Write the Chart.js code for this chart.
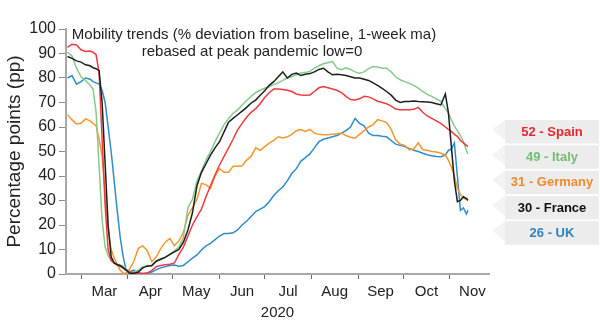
<!DOCTYPE html>
<html>
<head>
<meta charset="utf-8">
<script src="https://cdn.jsdelivr.net/npm/chart.js@4.4.1/dist/chart.umd.min.js"></script>
<style>
html,body{margin:0;padding:0;background:#fff;}
#wrap{width:600px;height:327px;}
canvas{display:block;}
</style>
</head>
<body>
<div id="wrap"><canvas id="c" width="600" height="327"></canvas></div>
<script>
// ---- data ----
const dates = [
 '2020-02-21','2020-02-24','2020-02-27','2020-03-01','2020-03-04','2020-03-07',
 '2020-03-09','2020-03-11','2020-03-13','2020-03-15','2020-03-17','2020-03-19','2020-03-21','2020-03-23','2020-03-25','2020-03-27','2020-03-29','2020-03-31',
 '2020-04-02',
 '2020-04-05','2020-04-08','2020-04-11','2020-04-14','2020-04-17','2020-04-20','2020-04-23','2020-04-26','2020-04-29','2020-05-02',
 '2020-05-05','2020-05-08','2020-05-11','2020-05-14','2020-05-17','2020-05-20','2020-05-23','2020-05-26','2020-05-29','2020-06-01',
 '2020-06-04','2020-06-07','2020-06-10','2020-06-13','2020-06-16','2020-06-19','2020-06-22','2020-06-25','2020-06-28','2020-07-01',
 '2020-07-04','2020-07-07','2020-07-10','2020-07-13','2020-07-16','2020-07-19','2020-07-22','2020-07-25','2020-07-28','2020-07-31',
 '2020-08-03','2020-08-06','2020-08-09','2020-08-12','2020-08-15','2020-08-18','2020-08-21','2020-08-24','2020-08-27','2020-08-30',
 '2020-09-02','2020-09-05','2020-09-08','2020-09-11','2020-09-14','2020-09-17','2020-09-20','2020-09-23','2020-09-26','2020-09-29',
 '2020-10-02','2020-10-05','2020-10-08','2020-10-11','2020-10-14','2020-10-17','2020-10-20','2020-10-23','2020-10-26','2020-10-29',
 '2020-10-31','2020-11-02','2020-11-04','2020-11-06','2020-11-08','2020-11-10','2020-11-12','2020-11-13'
];

const spain = [
 92.5,93.8,93.5,91.5,90.8,91,
 90.5,89.5,82,55,28,10,5.5,4.5,3.7,3,2.5,1.6,
 1,
 0.5,0.3,0.2,0.4,1.5,3,3.5,3.8,4,4.5,
 8,11,15.5,20,23.4,26.5,31.5,36,40.5,44.5,
 48,51.5,55,58.8,61.5,64,66,67.5,69.5,72,
 74,75.5,75.5,75.3,75,74.5,73.5,73.1,73,73.1,
 74.5,76,76.5,76,75.5,75,74,72.5,71.2,71,
 71.5,72.5,72.3,71.5,70.5,70,69.5,68.5,67.3,67,
 67,67,67.2,68,66,64.5,63.5,62.5,61.5,60,
 59,58.2,57,56.2,54.5,53.5,52.5,52
];

const italy = [
 90.5,89,84,80.5,79,77,
 75.5,66,44,22,11,7.5,5.5,4.5,4,3.6,3.2,2,
 1,
 0.8,1.5,3,3.5,3.2,5.5,6.2,7,8,9.5,
 11,15,27,30.5,38,42,46.5,50,54,57.5,
 61,63.5,65.5,67,69,70.8,72.5,74,75,75.8,
 76.5,77.3,78,79,80,80.5,81.3,82,82.3,82.7,
 84,85,85.8,86.2,86.8,84,83.4,84.2,83.5,82.5,
 82,82.5,83.8,84.7,84.5,84,84,82.5,80.5,79.3,
 78.5,77.8,77,75.9,74.5,73.3,72.5,71.5,70.5,67.5,
 65.7,63,60.5,58.5,56.5,54,50.5,49
];

const germany = [
 65,63,61.2,61.5,63.3,62.5,
 61.5,60.5,55,48,33,18,10,6.5,4,1.5,0.3,0.3,
 1.8,
 5,10.5,11.5,9.5,5,7,10.5,13,14.5,11.5,
 13.5,17,24,27,30.5,37,36.5,35,40,43,
 41.5,41.5,44,44,44.2,46.5,48,51.5,50.5,52,
 53.4,54.5,56,55.5,56,57,58.5,59,58.2,59,
 57.5,57,56.8,56.8,57,57.2,57.5,56.5,55.8,55.4,
 57,58.5,60,61,63,62.5,61.8,59,54.8,53,
 52.5,50.7,51,53.5,50.7,50.5,50,49.8,49.3,48.5,
 46.5,43.8,40,35,32.5,31,30.5,31
];

const france = [
 88.8,88,87,86.5,85.4,85,
 84.2,83.8,83,70,45,20,7,4.5,3.8,3.5,2.5,1.6,
 0.4,
 0.2,0.8,2.5,3.2,3.5,5.2,6,6.8,8,9,
 10,13,18,25,36,41.5,45,48.5,51.5,54,
 58,62,63.5,65,66.5,68,69.8,71,73,74.8,
 77,78.5,80.5,82.5,80,81.5,82,81,81.5,81.8,
 82.5,83.5,84,82.5,81.3,81.5,81.3,81,80.5,80,
 80,79.5,79,78,77,75.8,74.5,73,71,70,
 70.4,70.4,70.6,70.4,70.3,70.2,70,69.5,69,73.5,
 66,52,38,29.5,30,31.5,30.8,30
];

const uk = [
 80,81,77.5,78.5,80,79.5,
 78.5,78,77.5,75,70,60,50,38,26,15,7,1.5,
 0.8,
 1.6,0.5,0.2,0.3,0.8,1.8,2.5,3,3.5,3.7,
 3.2,3.5,5,6.5,7.8,9.8,11.5,12.5,14,15.5,
 16.5,16.5,16.8,18,20,21.5,23.5,25.5,26.5,27.5,
 29.5,32,34,35.5,38,41,43,46,47.5,49,
 51.5,54,55,55.5,56,56.5,57.5,58.5,60,63.5,
 61.5,60.5,57.5,56.5,56.5,56.2,56,54.5,53,52.5,
 52,51.2,50.5,50,49.3,48.7,48.3,48,47.9,48.5,
 50.5,51,53.5,40,26,27,24.5,26
];

const monthStarts = ['2020-03-01','2020-04-01','2020-05-01','2020-06-01','2020-07-01','2020-08-01','2020-09-01','2020-10-01','2020-11-01','2020-12-01'];
const monthLabels = ['Mar','Apr','May','Jun','Jul','Aug','Sep','Oct','Nov'];
const yTicks = [0,10,20,30,40,50,60,70,80,90,100];
const legendItems = ['52 - Spain','49 - Italy','31 - Germany','30 - France','26 - UK'];
const titleLines = ['Mobility trends (% deviation from baseline, 1-week ma)','rebased at peak pandemic low=0'];
const xTitle = '2020';
const yTitle = 'Percentage points (pp)';

// ---- helpers ----
const base = Date.UTC(2020,0,1);
function dayOf(s){const p=s.split('-');return (Date.UTC(+p[0],+p[1]-1,+p[2])-base)/86400000;}
const xs = dates.map(dayOf);
function pts(arr){return arr.map((v,i)=>({x:xs[i],y:v}));}

const startDays = monthStarts.map(dayOf);
const tickStarts = startDays.slice(0,9);
const midDays = monthLabels.map((m,i)=>(startDays[i]+startDays[i+1])/2);
const labelAt = {};
midDays.forEach((d,i)=>{labelAt[d]=monthLabels[i];});
const allTicks = tickStarts.concat(midDays).sort((a,b)=>a-b);

const FONT = "'Liberation Sans', Arial, sans-serif";
Chart.defaults.font.family = FONT;
Chart.defaults.color = '#222';

const colors = {
  spain:'#ee3a40', italy:'#86c98a', germany:'#f5962f', france:'#1e1e1e', uk:'#2d8dcc'
};
const legendColors = ['#e8262e','#72bd76','#f08a2c','#111111','#2b83c2'];

const overlay = {
  id:'overlay',
  afterDraw(chart){
    const ctx = chart.ctx;
    ctx.save();
    ctx.fillStyle = '#222';
    ctx.font = '15px ' + FONT;
    ctx.textAlign = 'center';
    ctx.textBaseline = 'alphabetic';
    ctx.fillText(titleLines[0], 254, 39);
    ctx.fillText(titleLines[1], 252, 56);
    const top0 = 120, step = 25.3, h = 23.5, bx = 505, bx2 = 599, tip = 492;
    legendItems.forEach((t,i)=>{
      const top = top0 + i*step;
      ctx.fillStyle = '#f3f3f3';
      ctx.beginPath();
      ctx.moveTo(bx, top);
      ctx.lineTo(tip, top + h*0.4);
      ctx.lineTo(bx, top + h*0.85);
      ctx.closePath();
      ctx.fill();
      ctx.fillStyle = '#ececec';
      ctx.fillRect(bx, top, bx2-bx, h);
      ctx.fillStyle = legendColors[i];
      ctx.font = 'bold 13px ' + FONT;
      ctx.textAlign = 'center';
      ctx.textBaseline = 'middle';
      ctx.fillText(t, (bx+bx2)/2, top + h/2 + 0.5);
    });
    ctx.restore();
  }
};

function ds(label, data, color){
  return {label, data: pts(data), borderColor: color, backgroundColor: color,
    borderWidth: 1.5, pointRadius: 0, tension: 0, fill: false};
}

new Chart(document.getElementById('c'), {
  type: 'line',
  data: {
    datasets: [
      ds('France', france, colors.france),
      ds('Spain', spain, colors.spain),
      ds('Italy', italy, colors.italy),
      ds('Germany', germany, colors.germany),
      ds('UK', uk, colors.uk)
    ]
  },
  options: {
    responsive: false,
    animation: false,
    devicePixelRatio: 1,
    layout: {padding: {left: 0, right: 111, top: 29, bottom: 0}},
    plugins: {legend: {display: false}, tooltip: {enabled: false}, title: {display: false}},
    scales: {
      x: {
        type: 'linear',
        min: dayOf('2020-02-20'),
        max: dayOf('2020-11-27'),
        afterBuildTicks(scale){ scale.ticks = allTicks.map(v=>({value:v})); },
        afterFit(scale){ scale.height = 53; },
        ticks: {
          autoSkip: false, maxRotation: 0, padding: 4,
          font: {size: 15}, color: '#222',
          callback(v){ return labelAt[v] || ''; }
        },
        grid: {
          drawOnChartArea: false, drawTicks: true, tickLength: 5, lineWidth: 1,
          tickColor(ctx){ return (ctx.tick && labelAt[ctx.tick.value]) ? 'rgba(0,0,0,0)' : '#666'; }
        },
        border: {display: true, color: '#a8a8a8', width: 2},
        title: {display: true, text: xTitle, font: {size: 15}, color: '#222', padding: {top: 0, bottom: 5}}
      },
      y: {
        min: 0, max: 100,
        afterBuildTicks(scale){ scale.ticks = yTicks.map(v=>({value:v})); },
        afterFit(scale){ scale.width = 66; },
        ticks: {font: {size: 16}, color: '#222', padding: 3},
        grid: {drawOnChartArea: false, drawTicks: true, tickLength: 7, tickColor: '#8a8a8a', lineWidth: 1},
        border: {display: true, color: '#a8a8a8', width: 2},
        title: {display: true, text: yTitle, font: {size: 19}, color: '#222', padding: {top: 3, bottom: 0}}
      }
    }
  },
  plugins: [overlay]
});
</script>
</body>
</html>
